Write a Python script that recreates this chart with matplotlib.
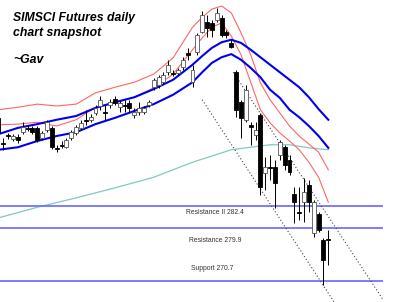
import matplotlib

matplotlib.use("Agg")

import matplotlib.pyplot as plt

# daily candles, oldest first
opens = [296.8, 292.8, 294.1, 293.4, 293.7, 294.5, 295.2, 295.2, 295.2, 293.6,
         294.9, 295.2, 292.0, 292.5, 292.1, 293.6, 294.4, 295.2, 296.5, 296.5,
         297.6, 298.7, 297.7, 298.9, 299.8, 298.5, 298.9, 299.2, 297.3, 297.7,
         297.7, 298.9, 301.7, 302.1, 302.5, 304.1, 304.0, 304.0, 304.9, 307.2,
         302.5, 307.3, 310.5, 312.1, 312.0, 312.5, 312.8, 310.5, 308.8, 304.1,
         299.3, 296.5, 295.7, 294.1, 297.3, 288.0, 288.9, 288.9, 290.9, 292.1,
         290.1, 284.6, 281.7, 283.3, 286.1, 278.4, 281.4, 277.3, 277.4]
highs = [297.3, 293.6, 294.4, 294.2, 294.2, 296.1, 295.7, 295.5, 295.5, 294.7,
         296.5, 295.5, 292.5, 293.1, 293.6, 294.9, 295.7, 296.5, 298.1, 297.4,
         298.9, 300.3, 298.9, 299.8, 300.3, 299.7, 299.7, 299.7, 298.4, 299.3,
         298.7, 299.7, 303.2, 303.7, 304.1, 306.1, 304.5, 304.8, 306.5, 308.0,
         305.3, 310.4, 313.9, 313.3, 312.5, 314.4, 313.3, 310.9, 309.3, 304.5,
         299.7, 302.1, 296.1, 296.1, 297.6, 290.5, 290.9, 290.1, 293.3, 292.5,
         290.9, 285.7, 285.7, 287.2, 286.9, 283.7, 281.7, 277.6, 278.9]
lows = [294.1, 291.7, 293.4, 293.1, 292.8, 294.2, 294.7, 294.2, 292.9, 293.3,
        294.5, 291.8, 291.3, 292.0, 292.0, 293.3, 294.1, 294.9, 295.7, 296.1,
        297.3, 298.1, 296.5, 298.4, 298.9, 297.7, 297.7, 297.7, 296.8, 297.3,
        297.4, 298.5, 301.3, 301.6, 302.2, 303.7, 303.5, 303.7, 304.5, 306.1,
        301.7, 306.9, 310.4, 309.7, 309.7, 312.1, 309.7, 309.6, 308.0, 296.9,
        293.6, 296.1, 292.5, 293.3, 284.5, 285.3, 286.9, 282.4, 290.1, 288.5,
        287.7, 280.0, 280.5, 280.1, 281.7, 277.7, 278.5, 270.1, 273.3]
closes = [294.5, 292.6, 293.9, 293.9, 293.3, 295.3, 295.0, 294.5, 293.3, 294.4,
          296.1, 292.1, 291.8, 292.3, 293.3, 294.5, 295.3, 296.0, 296.3, 296.9,
          298.4, 299.7, 297.6, 299.3, 299.2, 299.2, 298.7, 298.4, 297.7, 298.4,
          298.4, 299.3, 302.9, 303.3, 303.7, 305.3, 303.8, 304.5, 306.1, 306.9,
          304.5, 310.1, 313.3, 311.2, 310.9, 313.6, 310.1, 310.1, 308.1, 298.1,
          296.8, 301.3, 295.3, 294.9, 285.7, 288.9, 288.8, 286.4, 292.9, 289.3,
          288.1, 283.3, 281.6, 284.9, 283.3, 283.3, 278.9, 274.1, 277.3]

# averages / bands, sampled at these candle numbers
band_idx = [0, 4, 8, 12, 16, 20, 24, 28, 32, 36, 40, 42, 44, 46, 48, 50,
            52, 54, 56, 58, 60, 62, 64, 66, 68]
blue_upper = [294.2, 295.2, 295.8, 296.5, 297.1, 298.4, 299.3, 300.1, 301.4,
              302.9, 305.3, 306.7, 308.0, 308.9, 309.3, 308.8, 307.7, 306.5,
              305.3, 304.1, 302.9, 301.7, 300.1, 298.2, 296.5]
blue_lower = [291.7, 292.1, 293.1, 293.9, 294.5, 295.8, 296.8, 297.9, 299.0,
              300.5, 302.5, 304.1, 305.6, 306.5, 307.0, 306.1, 304.8, 303.3,
              301.3, 300.0, 298.1, 296.9, 295.5, 293.9, 292.0]
red_upper = [298.1, 298.5, 299.0, 298.7, 299.0, 300.8, 301.7, 302.5, 303.8,
             306.4, 311.3, 312.9, 314.2, 314.7, 313.6, 310.4, 306.9, 302.4,
             299.7, 297.6, 295.5, 293.9, 292.6, 291.3, 288.5]
red_lower = [295.7, 295.8, 296.1, 295.5, 296.5, 298.5, 299.2, 300.1, 301.6,
             303.8, 307.7, 309.6, 311.3, 312.0, 309.9, 306.9, 302.5, 298.1,
             296.0, 294.4, 293.1, 291.7, 289.7, 287.3, 283.3]
long_idx = [0, 8, 16, 24, 32, 40, 44, 48, 52, 56, 60, 64, 68]
long_ma = [280.8, 282.5, 284.0, 285.6, 287.3, 289.7, 290.7, 291.7, 292.1,
           292.5, 292.5, 292.0, 291.7]

# falling channel (two dotted trend lines)
channel_x = [[48.4, 79.3], [42.0, 72.0]]
channel_y = [[304.1, 267.7], [299.7, 264.0]]

levels = [282.7, 279.2, 270.7]
level_labels = ["Resistance II 282.4", "Resistance 279.9", "Support 270.7"]
label_pos = [(186, 212), (189, 240), (191, 269)]

W, H = 400, 302
fig = plt.figure(figsize=(W / 100, H / 100), dpi=100)
ax = fig.add_axes([0, 0, 1, 1])
ax.set_xlim(0.31, 82.78)
ax.set_ylim(267.34, 315.66)
ax.axis("off")

ax.plot(long_idx, long_ma, color="#84c7c0", lw=0.9, zorder=1)
ax.plot(band_idx, red_upper, color="#ff6666", lw=0.8, zorder=2)
ax.plot(band_idx, red_lower, color="#ff6666", lw=0.8, zorder=2)
ax.plot(band_idx, blue_upper, color="#0000ee", lw=1.5, zorder=2)
ax.plot(band_idx, blue_lower, color="#0000ee", lw=1.5, zorder=2)

for lv in levels:
    ax.hlines(lv, 0.31, 79.3, color="#7272ff", lw=1.3, zorder=3)
for cx, cy in zip(channel_x, channel_y):
    ax.plot(cx, cy, color="#444444", lw=0.8, ls=(0, (1, 2)), zorder=3)

idx = list(range(len(opens)))
ax.vlines(idx, lows, highs, color="black", lw=0.7, zorder=4)
for i, (o, c) in enumerate(zip(opens, closes)):
    lo, hi = min(o, c), max(o, c)
    h = max(hi - lo, 0.08)
    face = "white" if c > o else "black"
    edge = "#555555" if c > o else "black"
    ax.bar(i, h, bottom=lo, width=0.82, color=face, edgecolor=edge,
           lw=0.6, zorder=5)

font = ["Liberation Sans", "DejaVu Sans"]
fig.text(13 / W, 1 - 25.5 / H, "SIMSCI Futures daily\nchart snapshot",
         fontsize=8.8, fontweight="bold", fontstyle="italic", family=font,
         va="center", ha="left", linespacing=1.35)
fig.text(13 / W, 1 - 60 / H, "~Gav", fontsize=8.8, fontweight="bold",
         fontstyle="italic", family=font, va="center", ha="left")
for txt, (px, py) in zip(level_labels, label_pos):
    fig.text(px / W, 1 - py / H, txt, fontsize=4.9, color="#333333",
             family=font, va="center", ha="left")

fig.savefig("out.png", dpi=100)
